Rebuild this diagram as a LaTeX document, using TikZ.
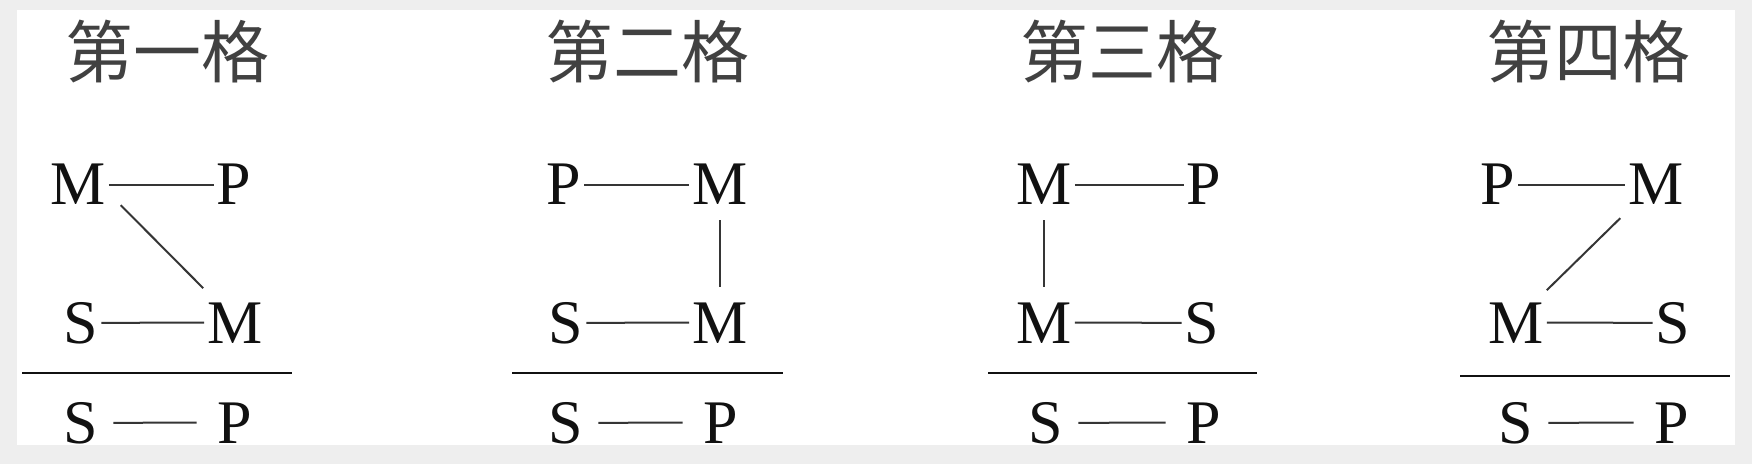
\documentclass[tikz,border=0pt]{standalone}
\usepackage{fontspec}
\setmainfont{Liberation Serif}
\newfontfamily\cjk{Noto Sans CJK SC}
\definecolor{ink}{HTML}{111111}
\definecolor{frame}{HTML}{EEEEEE}
\begin{document}
\begin{tikzpicture}[x=1pt,y=1pt,
  term/.style={anchor=base,inner sep=3pt,text=ink,font=\fontsize{62}{66}\selectfont},
  head/.style={inner sep=0pt,text=ink!80,font=\cjk\fontsize{68}{72}\selectfont},
  link/.style={draw=ink!85,line width=2pt},
  concl/.style={link,shorten <=12pt,shorten >=18pt},
  bar/.style={draw=ink,line width=2.8pt}]
\useasboundingbox (0,0) rectangle (1752,464);
% frame
\fill[frame] (0,0) rectangle (1752,464);
\fill[white] (17,19) rectangle (1735,454);
% first figure
\node[head] (h1) at (167,412) {第一格};
\node[term] (a11) at (78,259) {M};  \node[term] (a12) at (234,259) {P};
\node[term] (b11) at (81,121) {S};  \node[term] (b12) at (235,121) {M};
\node[term] (c11) at (81,21) {S};   \node[term] (c12) at (235,21) {P};
\draw[link] (a11) -- (a12);
\draw[link] ([shift={(12,3)}]a11.south east) -- ([shift={(-1,11)}]b12.north west);
\draw[link] (b11) -- (b12);
\draw[bar] (22,91) -- (292,91);
\draw[concl] (c11) -- (c12);
% second figure
\node[head] (h2) at (647,412) {第二格};
\node[term] (a21) at (564,259) {P};  \node[term] (a22) at (720,259) {M};
\node[term] (b21) at (566,121) {S};  \node[term] (b22) at (720,121) {M};
\node[term] (c21) at (566,21) {S};   \node[term] (c22) at (721,21) {P};
\draw[link] (a21) -- (a22);
\draw[link,shorten <=12pt,shorten >=12pt] (a22) -- (b22);
\draw[link] (b21) -- (b22);
\draw[bar] (512,91) -- (783,91);
\draw[concl] (c21) -- (c22);
% third figure
\node[head] (h3) at (1122,412) {第三格};
\node[term] (a31) at (1044,259) {M};  \node[term] (a32) at (1204,259) {P};
\node[term] (b31) at (1044,121) {M};  \node[term] (b32) at (1202,121) {S};
\node[term] (c31) at (1046,21) {S};   \node[term] (c32) at (1204,21) {P};
\draw[link] (a31) -- (a32);
\draw[link,shorten <=12pt,shorten >=12pt] (a31) -- (b31);
\draw[link] (b31) -- (b32);
\draw[bar] (988,91) -- (1257,91);
\draw[concl] (c31) -- (c32);
% fourth figure
\node[head] (h4) at (1588,412) {第四格};
\node[term] (a41) at (1498,259) {P};  \node[term] (a42) at (1656,259) {M};
\node[term] (b41) at (1516,121) {M};  \node[term] (b42) at (1673,121) {S};
\node[term] (c41) at (1516,21) {S};   \node[term] (c42) at (1672,21) {P};
\draw[link] (a41) -- (a42);
\draw[link] ([shift={(-5,-10)}]a42.south west) -- ([shift={(0,9)}]b41.north east);
\draw[link] (b41) -- (b42);
\draw[bar] (1460,88) -- (1730,88);
\draw[concl] (c41) -- (c42);
\end{tikzpicture}
\end{document}
